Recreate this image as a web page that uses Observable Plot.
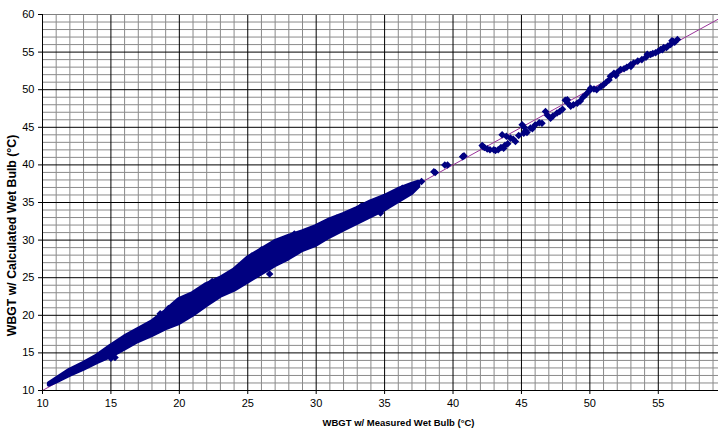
<!DOCTYPE html>
<html><head><meta charset="utf-8">
<script src="https://cdn.jsdelivr.net/npm/d3@7"></script>
<script src="https://cdn.jsdelivr.net/npm/@observablehq/plot@0.6"></script>
<style>
body{margin:0;background:#fff;}
#chart svg{display:block;}
</style></head><body><div id="chart"></div>
<script>
// Tick values
const xTicks = [10, 15, 20, 25, 30, 35, 40, 45, 50, 55];
const yTicks = [10, 15, 20, 25, 30, 35, 40, 45, 50, 55, 60];
const xMinor = [11,12,13,14,16,17,18,19,21,22,23,24,26,27,28,29,31,32,33,34,36,37,38,39,41,42,43,44,46,47,48,49,51,52,53,54,56,57,58,59];
const yMinor = [11,12,13,14,16,17,18,19,21,22,23,24,26,27,28,29,31,32,33,34,36,37,38,39,41,42,43,44,46,47,48,49,51,52,53,54,56,57,58,59];
const xMajor = [15, 20, 25, 30, 35, 40, 45, 50, 55];
const yMajor = [15, 20, 25, 30, 35, 40, 45, 50, 55];
const xTitle = "WBGT w/ Measured Wet Bulb (°C)";
const yTitle = "WBGT w/ Calculated Wet Bulb (°C)";

const bandX  = [10.5, 11, 12, 13, 14, 15, 16, 17, 18, 19, 20, 21, 22, 23, 24, 25, 26, 27, 28, 29, 30, 31, 32, 33, 34, 35, 36, 37, 37.5];
const bandLo = [10.7, 11.1, 12.0, 12.8, 13.7, 14.5, 15.5, 16.5, 17.3, 18.2, 18.9, 20.0, 21.3, 22.5, 23.3, 24.4, 25.5, 26.6, 27.5, 28.6, 29.3, 30.4, 31.3, 32.2, 33.1, 34.0, 35.1, 36.2, 37.1];
const bandHi = [10.9, 11.5, 12.7, 13.6, 14.6, 15.9, 17.1, 18.1, 19.1, 20.5, 22.1, 22.9, 24.1, 24.9, 26.0, 27.6, 28.7, 29.8, 30.5, 31.1, 31.8, 32.7, 33.4, 34.2, 35.1, 35.8, 36.7, 37.4, 37.7];

// Bumps on the band edges
const bumpX = [15.0, 15.3, 19.2, 18.6, 22.4, 25.3, 26.0, 26.6, 28.4, 30.2, 31.5, 33.3, 36.3];
const bumpY = [14.3, 14.4, 20.9, 20.2, 24.5, 27.9, 28.7, 25.5, 30.8, 31.7, 32.9, 34.5, 36.9];

const sparseX = [34.7, 37.7, 38.6, 38.7, 39.4, 39.6, 40.7, 40.8,
  42.13, 42.2, 42.3, 42.5, 42.7, 42.98, 43.1, 43.3, 43.5, 43.59, 43.7, 43.8, 43.9, 44.0, 44.2, 44.4, 44.56, 44.8,
  45.05, 45.17, 45.2, 45.3, 45.4, 45.66, 45.8, 46.0, 46.3, 46.5, 46.76, 46.9, 47.13, 47.3, 47.6, 47.8, 48.0,
  48.2, 48.35, 48.4, 48.6, 48.8, 49.08, 49.3, 49.5, 49.69, 49.93,
  50.05, 50.3, 50.5, 50.8, 51.0, 51.2, 51.4, 51.5, 51.76, 51.9, 52.0, 52.25, 52.5, 52.7, 52.98, 53.0, 53.2, 53.5, 53.8,
  54.1, 54.2, 54.44, 54.6, 54.8, 55.0, 55.17, 55.3, 55.4, 55.6, 55.7, 55.9, 56.0, 56.1, 56.2, 56.4];
const sparseY = [33.6, 37.8, 39.1, 39.0, 40.0, 40.0, 41.1, 41.2,
  42.57, 42.4, 42.3, 42.13, 42.0, 42.0, 41.9, 42.0, 42.3, 44.0, 42.2, 42.6, 43.8, 42.8, 43.56, 43.4, 43.1, 43.9,
  45.33, 44.2, 45.0, 44.5, 44.3, 44.9, 44.8, 45.3, 45.6, 45.55, 47.1, 46.6, 46.2, 46.5, 46.9, 47.1, 47.4,
  48.6, 48.67, 48.2, 47.8, 48.0, 48.2, 48.5, 49.0, 49.33, 49.8,
  50.2, 50.1, 50.0, 50.4, 50.67, 51.0, 51.3, 51.8, 52.2, 51.9, 52.3, 52.67, 52.8, 53.0, 53.33, 53.1, 53.56, 53.8, 54.0,
  54.3, 54.7, 54.67, 54.8, 54.9, 55.1, 55.33, 55.3, 55.6, 55.6, 55.8, 56.0, 56.5, 56.4, 56.3, 56.67];

const band = bandX.map((x, i) => ({x, lo: bandLo[i], hi: bandHi[i]}));
const bumps = bumpX.map((x, i) => ({x, y: bumpY[i]}));
const sparse = sparseX.map((x, i) => ({x, y: sparseY[i]}));
const refLine = [{x: 10, y: 10}, {x: 59.4, y: 59.4}];

const navy = "#000080";
const chart = Plot.plot({
  width: 718, height: 431,
  marginLeft: 42, marginRight: 0, marginTop: 14, marginBottom: 41,
  style: {fontFamily: "'Liberation Sans', Arial, sans-serif", fontSize: "11px", background: "#fff", color: "#000"},
  x: {domain: [10, 59.4], ticks: xTicks, label: null, tickSize: 4, tickPadding: 5},
  y: {domain: [10, 60], ticks: yTicks, label: null, tickSize: 4, tickPadding: 4},
  marks: [
    Plot.ruleX(xMinor, {stroke: "#8a8a8a", strokeWidth: 1}),
    Plot.ruleY(yMinor, {stroke: "#8a8a8a", strokeWidth: 1}),
    Plot.ruleX(xMajor, {stroke: "#000", strokeWidth: 1}),
    Plot.ruleY(yMajor, {stroke: "#000", strokeWidth: 1}),
    Plot.ruleY([60], {stroke: "#808080"}),
    Plot.line(refLine, {x: "x", y: "y", stroke: "#993399", strokeWidth: 1}),
    Plot.areaY(band, {x: "x", y1: "lo", y2: "hi", fill: navy, stroke: navy, strokeWidth: 4, strokeLinejoin: "round"}),
    Plot.dot(bumps, {x: "x", y: "y", symbol: "square", rotate: 45, r: 3, fill: navy}),
    Plot.dot(sparse, {x: "x", y: "y", symbol: "square", rotate: 45, r: 3, fill: navy}),
    Plot.ruleX([10], {stroke: "#000"}),
    Plot.ruleY([10], {stroke: "#000"}),
    Plot.axisX({ticks: xTicks, tickSize: 4, tickPadding: 5, label: null}),
    Plot.axisY({ticks: yTicks, tickSize: 4, tickPadding: 4, label: null}),
    Plot.text([xTitle], {frameAnchor: "bottom", dx: 18, dy: 35, fontWeight: "bold", fontSize: 9.5}),
    Plot.text([yTitle], {frameAnchor: "left", textAnchor: "middle", dx: -30, dy: 33, rotate: -90, fontWeight: "bold", fontSize: 12.3})
  ]
});
document.getElementById("chart").appendChild(chart);
</script></body></html>
